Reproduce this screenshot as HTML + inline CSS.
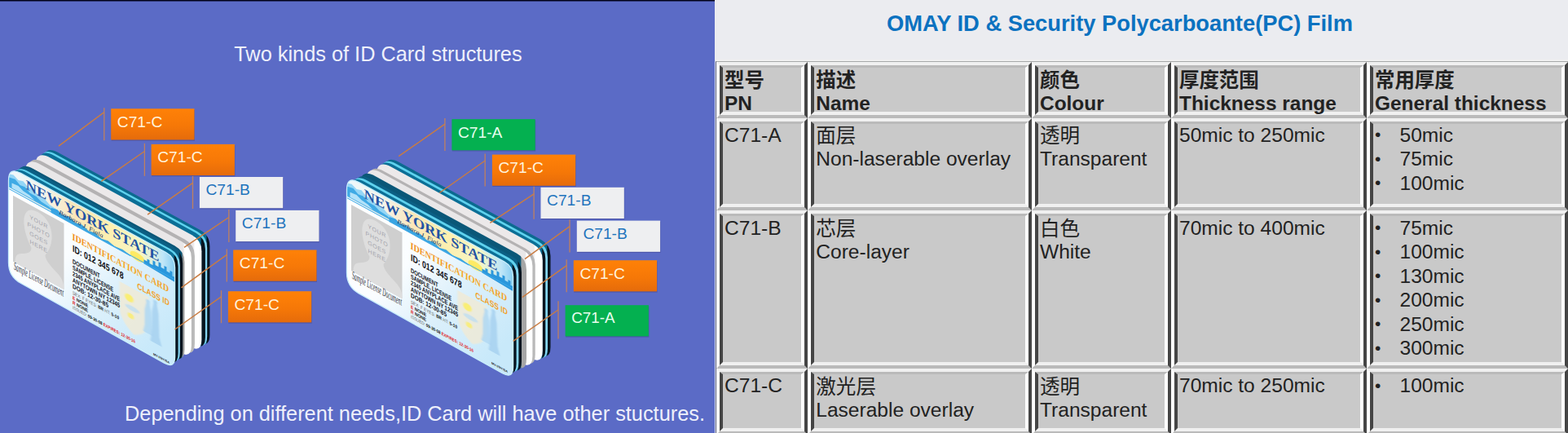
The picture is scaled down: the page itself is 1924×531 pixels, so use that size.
<!DOCTYPE html>
<html lang="zh">
<head>
<meta charset="utf-8">
<title>OMAY ID &amp; Security Polycarboante(PC) Film</title>
<style>
html,body{margin:0;padding:0;}
body{width:1924px;height:531px;overflow:hidden;position:relative;background:#ebecf0;
  font-family:"Liberation Sans","Noto Sans CJK SC",sans-serif;color:#222;}
#left{position:absolute;left:0;top:0;width:877px;height:531px;overflow:hidden;}
#left svg{display:block}
#title{position:absolute;left:877px;top:0;width:994px;text-align:center;font-weight:bold;
  font-size:27.3px;line-height:58px;color:#0b72c0;white-space:nowrap;}
#tbl{position:absolute;left:0;top:0;width:1924px;height:531px;overflow:hidden;}
#tb-bg{position:absolute;left:877px;top:73px;width:1060px;height:470px;background:#f0f0f0;
  border-left:1px solid #dfe3f3;border-top:1.6px solid #f0f0f0;box-sizing:border-box;}
#tb-in{position:absolute;left:878px;top:74.6px;width:1060px;height:470px;background:#f0f0f0;
  border-left:1.1px solid #55597a;border-top:1.4px solid #a6a8a8;box-sizing:border-box;}
.co{position:absolute;box-sizing:border-box;border-style:solid;border-width:4.1px;
  border-color:#f0f0f0 #454545 #bababa #ffffff;}
.ci{width:100%;height:100%;box-sizing:border-box;border-style:solid;border-width:4.1px;
  border-color:#bababa #ffffff #f0f0f0 #454545;border-top-width:3.2px;background:#c9c9c9;}
.t{position:absolute;font-size:24.56px;line-height:29.5px;white-space:nowrap;color:#222;}
.t.b{font-weight:bold;font-size:24.45px;}
.bu{font-size:21px;}
</style>
</head>
<body>
<div id="left">
<svg width="877" height="531" viewBox="0 0 877 531">
<defs>
<linearGradient id="og" x1="0" y1="0" x2="0" y2="1"><stop offset="0" stop-color="#ff8107"/><stop offset="0.55" stop-color="#f67807"/><stop offset="1" stop-color="#e56b0b"/></linearGradient>
<linearGradient id="bang" x1="0" y1="0" x2="1" y2="0"><stop offset="0" stop-color="#eef8fd"/><stop offset="0.22" stop-color="#f3f3ea"/><stop offset="0.4" stop-color="#fbe6b8"/><stop offset="0.6" stop-color="#fdf0b0"/><stop offset="0.8" stop-color="#f4f6c8"/><stop offset="0.92" stop-color="#bfe6f8"/><stop offset="1" stop-color="#7fcaf0"/></linearGradient>
<filter id="soft" x="-20%" y="-20%" width="140%" height="140%"><feGaussianBlur stdDeviation="0.7"/></filter>
<linearGradient id="idg" x1="0" y1="0" x2="1" y2="0"><stop offset="0" stop-color="#f08c1c"/><stop offset="0.6" stop-color="#f6a823"/><stop offset="1" stop-color="#f2a22a"/></linearGradient>
</defs>
<rect width="877" height="531" fill="#5b6bc6"/>
<rect width="877" height="1.5" fill="#02021a"/>
<text x="287.3" y="74.5" font-family="'Liberation Sans',sans-serif" font-size="25.34" fill="#eef0fb">Two kinds of ID Card structures</text>
<text x="153.0" y="516.0" font-family="'Liberation Sans',sans-serif" font-size="25.34" fill="#eef0fb">Depending on different needs,ID Card will have other stuctures.</text>
<defs><linearGradient id="lga_9" gradientUnits="userSpaceOnUse" x1="252.60" y1="0" x2="254.40" y2="0"><stop offset="0" stop-color="#0b6a90"/><stop offset="1" stop-color="#07141f"/></linearGradient><linearGradient id="lga_8" gradientUnits="userSpaceOnUse" x1="250.30" y1="0" x2="252.10" y2="0"><stop offset="0" stop-color="#5fd2ee"/><stop offset="1" stop-color="#86d6f2"/></linearGradient><linearGradient id="lga_7" gradientUnits="userSpaceOnUse" x1="245.80" y1="0" x2="247.60" y2="0"><stop offset="0" stop-color="#0c6f96"/><stop offset="1" stop-color="#07141f"/></linearGradient><linearGradient id="lga_6" gradientUnits="userSpaceOnUse" x1="237.30" y1="0" x2="239.10" y2="0"><stop offset="0" stop-color="#ece9ea"/><stop offset="1" stop-color="#ffffff"/></linearGradient><linearGradient id="lga_5" gradientUnits="userSpaceOnUse" x1="233.30" y1="0" x2="235.10" y2="0"><stop offset="0" stop-color="#b4b2b3"/><stop offset="1" stop-color="#b9b9b9"/></linearGradient><linearGradient id="lga_4" gradientUnits="userSpaceOnUse" x1="224.80" y1="0" x2="226.60" y2="0"><stop offset="0" stop-color="#e9e7e8"/><stop offset="1" stop-color="#ffffff"/></linearGradient><linearGradient id="lga_3" gradientUnits="userSpaceOnUse" x1="222.60" y1="0" x2="224.40" y2="0"><stop offset="0" stop-color="#0a5778"/><stop offset="1" stop-color="#9a9a9a"/></linearGradient><linearGradient id="lga_2" gradientUnits="userSpaceOnUse" x1="219.20" y1="0" x2="221.00" y2="0"><stop offset="0" stop-color="#0b5f84"/><stop offset="1" stop-color="#07141f"/></linearGradient><linearGradient id="lga_1" gradientUnits="userSpaceOnUse" x1="217.00" y1="0" x2="218.80" y2="0"><stop offset="0" stop-color="#5fd2ee"/><stop offset="1" stop-color="#86d6f2"/></linearGradient><linearGradient id="lga_0" gradientUnits="userSpaceOnUse" x1="213.00" y1="0" x2="214.80" y2="0"><stop offset="0" stop-color="#0c6f96"/><stop offset="1" stop-color="#07141f"/></linearGradient><linearGradient id="facega" gradientUnits="userSpaceOnUse" x1="10.5" y1="204.3" x2="214.6" y2="399.0"><stop offset="0" stop-color="#ffffff"/><stop offset="0.45" stop-color="#fafdff"/><stop offset="0.7" stop-color="#dcf0fb"/><stop offset="1" stop-color="#c8e9fa"/></linearGradient></defs>
<path d="M53.30 198.20Q53.30 177.20 71.74 187.25L245.55 281.97Q257.40 288.43 257.40 301.93L257.40 410.38Q257.40 427.38 242.54 419.12L71.65 324.10Q53.30 313.90 53.30 292.90Z" fill="url(#lga_9)"/>
<path d="M50.10 200.23Q50.10 179.23 68.54 189.28L242.35 284.00Q254.20 290.46 254.20 303.96L254.20 412.26Q254.20 429.26 239.34 421.00L68.45 325.98Q50.10 315.78 50.10 294.78Z" fill="url(#lga_8)"/>
<path d="M47.80 201.68Q47.80 180.68 66.24 190.73L240.05 285.46Q251.90 291.92 251.90 305.42L251.90 413.61Q251.90 430.61 237.04 422.34L66.15 327.33Q47.80 317.13 47.80 296.13Z" fill="url(#lga_7)"/>
<path d="M43.30 204.53Q43.30 183.53 61.74 193.58L235.55 288.31Q247.40 294.77 247.40 308.27L247.40 416.24Q247.40 433.24 232.54 424.98L61.65 329.97Q43.30 319.76 43.30 298.76Z" fill="url(#lga_6)"/>
<path d="M34.80 209.91Q34.80 188.91 53.24 198.96L227.05 293.69Q238.90 300.15 238.90 313.65L238.90 421.23Q238.90 438.23 224.04 429.97L53.15 334.95Q34.80 324.75 34.80 303.75Z" fill="url(#lga_5)"/>
<path d="M30.80 212.45Q30.80 191.45 49.24 201.50L223.05 296.22Q234.90 302.68 234.90 316.18L234.90 423.57Q234.90 440.57 220.04 432.31L49.15 337.30Q30.80 327.10 30.80 306.10Z" fill="url(#lga_4)"/>
<path d="M22.30 217.83Q22.30 196.83 40.74 206.88L214.55 301.60Q226.40 308.06 226.40 321.56L226.40 428.56Q226.40 445.56 211.54 437.30L40.65 342.28Q22.30 332.08 22.30 311.08Z" fill="url(#lga_3)"/>
<path d="M20.10 219.22Q20.10 198.22 38.54 208.27L212.35 303.00Q224.20 309.46 224.20 322.96L224.20 429.85Q224.20 446.85 209.34 438.59L38.45 343.57Q20.10 333.37 20.10 312.37Z" fill="url(#lga_2)"/>
<path d="M16.70 221.37Q16.70 200.37 35.14 210.42L208.95 305.15Q220.80 311.61 220.80 325.11L220.80 431.84Q220.80 448.84 205.94 440.58L35.05 345.57Q16.70 335.36 16.70 314.36Z" fill="url(#lga_1)"/>
<path d="M14.50 222.77Q14.50 201.77 32.94 211.82L206.75 306.54Q218.60 313.00 218.60 326.50L218.60 433.13Q218.60 450.13 203.74 441.87L32.85 346.86Q14.50 336.65 14.50 315.65Z" fill="url(#lga_0)"/>
<clipPath id="fca"><path d="M10.50 221.30Q10.50 204.30 25.43 212.44L203.62 309.55Q214.60 315.53 214.60 328.03L214.60 437.48Q214.60 452.48 201.49 445.19L25.36 347.26Q10.50 339.00 10.50 322.00Z"/></clipPath>
<path d="M10.50 221.30Q10.50 204.30 25.43 212.44L203.62 309.55Q214.60 315.53 214.60 328.03L214.60 437.48Q214.60 452.48 201.49 445.19L25.36 347.26Q10.50 339.00 10.50 322.00Z" fill="url(#facega)"/>
<g clip-path="url(#fca)">
<g transform="matrix(1,0.548,0,1,10.50,204.30)">
<rect x="0" y="-2" width="206" height="29" fill="url(#bang)"/>
<path d="M0 9 L6 7 L12 10 L18 8 L24 12 L30 11 L36 15 L44 15 L50 19 L58 20 L64 23 L0 23 Z" fill="#8fd4f5" opacity="0.95"/>
<path d="M0 13 L8 11 L14 15 L20 14 L26 18 L34 18 L40 21 L50 22 L56 25 L0 25 Z" fill="#35a5e3" opacity="0.9"/>
<path d="M4 18 L12 17 L18 20 L26 21 L32 24 L4 24 Z" fill="#bfe8fb" opacity="0.9"/>
<path d="M52 22 L60 20 L66 23 L74 21 L82 24 L90 22 L98 25 L106 23 L114 26 L122 24 L130 26.5 L140 25 L150 27 L150 28 L52 28 Z" fill="#2f9fe2" opacity="0.95"/>
<ellipse cx="158" cy="24" rx="9" ry="5" fill="#ffe95a" opacity="0.9"/>
<path d="M166 28 L166 23 L170 23 L170 20 L173 20 L173 24 L177 24 L177 18 L180 18 L180 22 L184 22 L184 16 L187 16 L187 21 L191 21 L191 17 L194 17 L194 22 L198 22 L198 19 L201 19 L201 24 L206 24 L206 30 Z" fill="#2a97dc"/>
<rect x="0" y="26.4" width="206" height="1.1" fill="#3fa9e6"/>
<text transform="translate(21.3,15.6) scale(1,1.0)" x="0" y="0" font-family="'Liberation Serif',serif" font-weight="bold" font-size="16.6" textLength="163.5" lengthAdjust="spacingAndGlyphs" fill="#2152a4">NEW YORK STATE</text>
<text x="62" y="24.0" font-family="'Liberation Serif',serif" font-style="italic" font-size="7.4" textLength="54" lengthAdjust="spacingAndGlyphs" fill="#12305e">Barbara J. Fiala</text>
<rect x="5.5" y="32.5" width="62.5" height="81" fill="#cfcfcf"/>
<path d="M36 36 C49 36 54 47 53 60 C52 72 47 80 45 84 C45 90 52 94 60 98 C66 101 68 106 68 113.5 L8 113.5 C8 106 10 101 16 98 C23 94 28 90 28 84 C25 80 20 72 19 60 C18 47 23 36 36 36 Z" fill="#dedede"/>
<text x="37" y="50.0" text-anchor="middle" font-family="'Liberation Sans',sans-serif" font-size="7" fill="#a4a4ac" letter-spacing="0.6">YOUR</text>
<text x="37" y="60.0" text-anchor="middle" font-family="'Liberation Sans',sans-serif" font-size="7" fill="#a4a4ac" letter-spacing="0.6">PHOTO</text>
<text x="37" y="70.0" text-anchor="middle" font-family="'Liberation Sans',sans-serif" font-size="7" fill="#a4a4ac" letter-spacing="0.6">GOES</text>
<text x="37" y="80.0" text-anchor="middle" font-family="'Liberation Sans',sans-serif" font-size="7" fill="#a4a4ac" letter-spacing="0.6">HERE</text>
<text x="6.5" y="122.5" font-family="'Liberation Serif',serif" font-style="italic" font-size="14" textLength="61" lengthAdjust="spacingAndGlyphs" fill="#2e2e38">Sample License Document</text>
<g filter="url(#soft)">
<path d="M136 66 L172 66 L172 96 C172 110 162 118 154 122 C146 118 136 110 136 96 Z" fill="#f3ead2" opacity="0.75"/>
<ellipse cx="148" cy="80" rx="5.5" ry="4.5" fill="#fbee6a" opacity="0.9"/>
<ellipse cx="150" cy="101" rx="4" ry="3.2" fill="#fbee6a" opacity="0.8"/>
<ellipse cx="152" cy="91" rx="9" ry="3" fill="#b9ddf3" opacity="0.7"/>
<path d="M169 74 l4 0 l2 9 l1 20 l2 8 l-13 0 l2 -9 l0 -19 z" fill="#b3d9f3" opacity="0.9"/>
<ellipse cx="171" cy="72" rx="2.4" ry="2.8" fill="#b3d9f3" opacity="0.9"/>
<path d="M178 70 l4 0 l2 10 l1 28 l3 10 l-14 0 l2 -12 l0 -26 z" fill="#a9d3f1" opacity="0.9"/>
<ellipse cx="180" cy="68" rx="2.4" ry="2.8" fill="#a9d3f1" opacity="0.9"/>
</g>
<text x="78" y="46.6" font-family="'Liberation Serif',serif" font-weight="bold" font-size="11.8" textLength="118.5" lengthAdjust="spacingAndGlyphs" fill="url(#idg)">IDENTIFICATION CARD</text>
<text x="157.8" y="63" font-family="'Liberation Sans',sans-serif" font-weight="bold" font-size="10.4" textLength="39.5" lengthAdjust="spacingAndGlyphs" fill="#f2a22a">CLASS ID</text>
<text x="78.5" y="61" font-family="'Liberation Sans',sans-serif" font-weight="bold" font-size="11.6" textLength="62.5" lengthAdjust="spacingAndGlyphs" fill="#0d0d12">ID: 012 345 678</text>
<text x="78.5" y="75.6" font-family="'Liberation Sans',sans-serif" font-weight="bold" font-size="8" textLength="33.5" lengthAdjust="spacingAndGlyphs" fill="#12121a">DOCUMENT</text>
<text x="78.5" y="83.2" font-family="'Liberation Sans',sans-serif" font-weight="bold" font-size="8" textLength="50" lengthAdjust="spacingAndGlyphs" fill="#12121a">SAMPLE, LICENSE</text>
<text x="78.5" y="90.8" font-family="'Liberation Sans',sans-serif" font-weight="bold" font-size="8" textLength="58" lengthAdjust="spacingAndGlyphs" fill="#12121a">2345 ANYPLACE AVE</text>
<text x="78.5" y="98.4" font-family="'Liberation Sans',sans-serif" font-weight="bold" font-size="8" textLength="58" lengthAdjust="spacingAndGlyphs" fill="#12121a">ANYTOWN NY 12345</text>
<text x="78.5" y="106.0" font-family="'Liberation Sans',sans-serif" font-weight="bold" font-size="8" textLength="44" lengthAdjust="spacingAndGlyphs" fill="#12121a">DOB:  12-30-85</text>
<text x="78.5" y="113.4" font-family="'Liberation Sans',sans-serif" font-size="5.6" textLength="57" lengthAdjust="spacingAndGlyphs" fill="#666">SEX: F   EYES: <tspan font-weight="bold" fill="#111">BR</tspan>   HT: <tspan font-weight="bold" fill="#111">5-10</tspan></text>
<text x="78.5" y="119.4" font-family="'Liberation Sans',sans-serif" font-weight="bold" font-size="5.8" textLength="19" lengthAdjust="spacingAndGlyphs" fill="#111"><tspan fill="#e02020">E</tspan> NONE</text>
<text x="78.5" y="125.4" font-family="'Liberation Sans',sans-serif" font-weight="bold" font-size="5.8" textLength="19" lengthAdjust="spacingAndGlyphs" fill="#111"><tspan fill="#e02020">R</tspan> NONE</text>
<text x="78.5" y="131.4" font-family="'Liberation Sans',sans-serif" font-size="5.4" textLength="77" lengthAdjust="spacingAndGlyphs" fill="#666">ISSUED: <tspan font-weight="bold" fill="#111">09-30-08</tspan>   <tspan font-weight="bold" fill="#e02020">EXPIRES: 12-30-16</tspan></text>
<text x="177.5" y="133.6" font-family="'Liberation Sans',sans-serif" font-weight="bold" font-size="3.8" textLength="20" lengthAdjust="spacingAndGlyphs" fill="#222">MV-I/NY/SA</text>
</g></g>
<path d="M10.50 221.30Q10.50 204.30 25.43 212.44L203.62 309.55Q214.60 315.53 214.60 328.03L214.60 437.48Q214.60 452.48 201.49 445.19L25.36 347.26Q10.50 339.00 10.50 322.00Z" fill="none" stroke="#c9eefc" stroke-width="1.3"/>
<defs><linearGradient id="lgb_9" gradientUnits="userSpaceOnUse" x1="670.40" y1="0" x2="672.20" y2="0"><stop offset="0" stop-color="#0b6a90"/><stop offset="1" stop-color="#07141f"/></linearGradient><linearGradient id="lgb_8" gradientUnits="userSpaceOnUse" x1="667.70" y1="0" x2="669.50" y2="0"><stop offset="0" stop-color="#5fd2ee"/><stop offset="1" stop-color="#86d6f2"/></linearGradient><linearGradient id="lgb_7" gradientUnits="userSpaceOnUse" x1="664.20" y1="0" x2="666.00" y2="0"><stop offset="0" stop-color="#0c6f96"/><stop offset="1" stop-color="#07141f"/></linearGradient><linearGradient id="lgb_6" gradientUnits="userSpaceOnUse" x1="655.10" y1="0" x2="656.90" y2="0"><stop offset="0" stop-color="#ece9ea"/><stop offset="1" stop-color="#ffffff"/></linearGradient><linearGradient id="lgb_5" gradientUnits="userSpaceOnUse" x1="651.80" y1="0" x2="653.60" y2="0"><stop offset="0" stop-color="#b4b2b3"/><stop offset="1" stop-color="#b9b9b9"/></linearGradient><linearGradient id="lgb_4" gradientUnits="userSpaceOnUse" x1="644.40" y1="0" x2="646.20" y2="0"><stop offset="0" stop-color="#e9e7e8"/><stop offset="1" stop-color="#ffffff"/></linearGradient><linearGradient id="lgb_3" gradientUnits="userSpaceOnUse" x1="638.40" y1="0" x2="640.20" y2="0"><stop offset="0" stop-color="#0a5778"/><stop offset="1" stop-color="#a6a6a6"/></linearGradient><linearGradient id="lgb_2" gradientUnits="userSpaceOnUse" x1="634.80" y1="0" x2="636.60" y2="0"><stop offset="0" stop-color="#0b5f84"/><stop offset="1" stop-color="#07141f"/></linearGradient><linearGradient id="lgb_1" gradientUnits="userSpaceOnUse" x1="632.00" y1="0" x2="633.80" y2="0"><stop offset="0" stop-color="#5fd2ee"/><stop offset="1" stop-color="#86d6f2"/></linearGradient><linearGradient id="lgb_0" gradientUnits="userSpaceOnUse" x1="628.00" y1="0" x2="629.80" y2="0"><stop offset="0" stop-color="#0c6f96"/><stop offset="1" stop-color="#07141f"/></linearGradient><linearGradient id="facegb" gradientUnits="userSpaceOnUse" x1="425.5" y1="215.5" x2="629.6" y2="411.6"><stop offset="0" stop-color="#ffffff"/><stop offset="0.45" stop-color="#fafdff"/><stop offset="0.7" stop-color="#dcf0fb"/><stop offset="1" stop-color="#c8e9fa"/></linearGradient></defs>
<path d="M471.40 210.00Q471.40 189.00 489.84 199.05L663.65 293.77Q675.50 300.23 675.50 313.73L675.50 425.58Q675.50 442.58 660.64 434.32L489.75 339.30Q471.40 329.10 471.40 308.10Z" fill="url(#lgb_9)"/>
<path d="M467.90 212.02Q467.90 191.02 486.34 201.07L660.15 295.79Q672.00 302.26 672.00 315.76L672.00 427.30Q672.00 444.30 657.14 436.03L486.25 341.02Q467.90 330.82 467.90 309.82Z" fill="url(#lgb_8)"/>
<path d="M465.20 213.58Q465.20 192.58 483.64 202.63L657.45 297.35Q669.30 303.81 669.30 317.31L669.30 428.62Q669.30 445.62 654.44 437.36L483.55 342.34Q465.20 332.14 465.20 311.14Z" fill="url(#lgb_7)"/>
<path d="M461.70 215.60Q461.70 194.60 480.14 204.65L653.95 299.37Q665.80 305.83 665.80 319.33L665.80 430.33Q665.80 447.33 650.94 439.07L480.05 344.06Q461.70 333.85 461.70 312.85Z" fill="url(#lgb_6)"/>
<path d="M452.60 220.85Q452.60 199.85 471.04 209.90L644.85 304.63Q656.70 311.09 656.70 324.59L656.70 434.80Q656.70 451.80 641.84 443.53L470.95 348.52Q452.60 338.32 452.60 317.32Z" fill="url(#lgb_5)"/>
<path d="M449.30 222.76Q449.30 201.76 467.74 211.81L641.55 306.53Q653.40 312.99 653.40 326.49L653.40 436.41Q653.40 453.41 638.54 445.15L467.65 350.14Q449.30 339.93 449.30 318.93Z" fill="url(#lgb_4)"/>
<path d="M441.90 227.03Q441.90 206.03 460.34 216.08L634.15 310.81Q646.00 317.27 646.00 330.77L646.00 440.04Q646.00 457.04 631.14 448.78L460.25 353.77Q441.90 343.56 441.90 322.56Z" fill="url(#lgb_3)"/>
<path d="M435.90 230.50Q435.90 209.50 454.34 219.55L628.15 314.27Q640.00 320.73 640.00 334.23L640.00 442.98Q640.00 459.98 625.14 451.72L454.25 356.71Q435.90 346.50 435.90 325.50Z" fill="url(#lgb_2)"/>
<path d="M432.30 232.57Q432.30 211.57 450.74 221.62L624.55 316.35Q636.40 322.81 636.40 336.31L636.40 444.75Q636.40 461.75 621.54 453.49L450.65 358.47Q432.30 348.27 432.30 327.27Z" fill="url(#lgb_1)"/>
<path d="M429.50 234.19Q429.50 213.19 447.94 223.24L621.75 317.96Q633.60 324.43 633.60 337.93L633.60 446.12Q633.60 463.12 618.74 454.86L447.85 359.84Q429.50 349.64 429.50 328.64Z" fill="url(#lgb_0)"/>
<clipPath id="fcb"><path d="M425.50 232.50Q425.50 215.50 440.43 223.64L618.62 320.75Q629.60 326.73 629.60 339.23L629.60 450.08Q629.60 465.08 616.49 457.79L440.36 359.86Q425.50 351.60 425.50 334.60Z"/></clipPath>
<path d="M425.50 232.50Q425.50 215.50 440.43 223.64L618.62 320.75Q629.60 326.73 629.60 339.23L629.60 450.08Q629.60 465.08 616.49 457.79L440.36 359.86Q425.50 351.60 425.50 334.60Z" fill="url(#facegb)"/>
<g clip-path="url(#fcb)">
<g transform="matrix(1,0.548,0,1,425.50,215.50)">
<rect x="0" y="-2" width="206" height="29" fill="url(#bang)"/>
<path d="M0 9 L6 7 L12 10 L18 8 L24 12 L30 11 L36 15 L44 15 L50 19 L58 20 L64 23 L0 23 Z" fill="#8fd4f5" opacity="0.95"/>
<path d="M0 13 L8 11 L14 15 L20 14 L26 18 L34 18 L40 21 L50 22 L56 25 L0 25 Z" fill="#35a5e3" opacity="0.9"/>
<path d="M4 18 L12 17 L18 20 L26 21 L32 24 L4 24 Z" fill="#bfe8fb" opacity="0.9"/>
<path d="M52 22 L60 20 L66 23 L74 21 L82 24 L90 22 L98 25 L106 23 L114 26 L122 24 L130 26.5 L140 25 L150 27 L150 28 L52 28 Z" fill="#2f9fe2" opacity="0.95"/>
<ellipse cx="158" cy="24" rx="9" ry="5" fill="#ffe95a" opacity="0.9"/>
<path d="M166 28 L166 23 L170 23 L170 20 L173 20 L173 24 L177 24 L177 18 L180 18 L180 22 L184 22 L184 16 L187 16 L187 21 L191 21 L191 17 L194 17 L194 22 L198 22 L198 19 L201 19 L201 24 L206 24 L206 30 Z" fill="#2a97dc"/>
<rect x="0" y="26.4" width="206" height="1.1" fill="#3fa9e6"/>
<text transform="translate(21.3,15.6) scale(1,1.0)" x="0" y="0" font-family="'Liberation Serif',serif" font-weight="bold" font-size="16.6" textLength="163.5" lengthAdjust="spacingAndGlyphs" fill="#2152a4">NEW YORK STATE</text>
<text x="62" y="24.0" font-family="'Liberation Serif',serif" font-style="italic" font-size="7.4" textLength="54" lengthAdjust="spacingAndGlyphs" fill="#12305e">Barbara J. Fiala</text>
<rect x="5.5" y="32.5" width="62.5" height="81" fill="#cfcfcf"/>
<path d="M36 36 C49 36 54 47 53 60 C52 72 47 80 45 84 C45 90 52 94 60 98 C66 101 68 106 68 113.5 L8 113.5 C8 106 10 101 16 98 C23 94 28 90 28 84 C25 80 20 72 19 60 C18 47 23 36 36 36 Z" fill="#dedede"/>
<text x="37" y="50.0" text-anchor="middle" font-family="'Liberation Sans',sans-serif" font-size="7" fill="#a4a4ac" letter-spacing="0.6">YOUR</text>
<text x="37" y="60.0" text-anchor="middle" font-family="'Liberation Sans',sans-serif" font-size="7" fill="#a4a4ac" letter-spacing="0.6">PHOTO</text>
<text x="37" y="70.0" text-anchor="middle" font-family="'Liberation Sans',sans-serif" font-size="7" fill="#a4a4ac" letter-spacing="0.6">GOES</text>
<text x="37" y="80.0" text-anchor="middle" font-family="'Liberation Sans',sans-serif" font-size="7" fill="#a4a4ac" letter-spacing="0.6">HERE</text>
<text x="6.5" y="122.5" font-family="'Liberation Serif',serif" font-style="italic" font-size="14" textLength="61" lengthAdjust="spacingAndGlyphs" fill="#2e2e38">Sample License Document</text>
<g filter="url(#soft)">
<path d="M136 66 L172 66 L172 96 C172 110 162 118 154 122 C146 118 136 110 136 96 Z" fill="#f3ead2" opacity="0.75"/>
<ellipse cx="148" cy="80" rx="5.5" ry="4.5" fill="#fbee6a" opacity="0.9"/>
<ellipse cx="150" cy="101" rx="4" ry="3.2" fill="#fbee6a" opacity="0.8"/>
<ellipse cx="152" cy="91" rx="9" ry="3" fill="#b9ddf3" opacity="0.7"/>
<path d="M169 74 l4 0 l2 9 l1 20 l2 8 l-13 0 l2 -9 l0 -19 z" fill="#b3d9f3" opacity="0.9"/>
<ellipse cx="171" cy="72" rx="2.4" ry="2.8" fill="#b3d9f3" opacity="0.9"/>
<path d="M178 70 l4 0 l2 10 l1 28 l3 10 l-14 0 l2 -12 l0 -26 z" fill="#a9d3f1" opacity="0.9"/>
<ellipse cx="180" cy="68" rx="2.4" ry="2.8" fill="#a9d3f1" opacity="0.9"/>
</g>
<text x="78" y="46.6" font-family="'Liberation Serif',serif" font-weight="bold" font-size="11.8" textLength="118.5" lengthAdjust="spacingAndGlyphs" fill="url(#idg)">IDENTIFICATION CARD</text>
<text x="157.8" y="63" font-family="'Liberation Sans',sans-serif" font-weight="bold" font-size="10.4" textLength="39.5" lengthAdjust="spacingAndGlyphs" fill="#f2a22a">CLASS ID</text>
<text x="78.5" y="61" font-family="'Liberation Sans',sans-serif" font-weight="bold" font-size="11.6" textLength="62.5" lengthAdjust="spacingAndGlyphs" fill="#0d0d12">ID: 012 345 678</text>
<text x="78.5" y="75.6" font-family="'Liberation Sans',sans-serif" font-weight="bold" font-size="8" textLength="33.5" lengthAdjust="spacingAndGlyphs" fill="#12121a">DOCUMENT</text>
<text x="78.5" y="83.2" font-family="'Liberation Sans',sans-serif" font-weight="bold" font-size="8" textLength="50" lengthAdjust="spacingAndGlyphs" fill="#12121a">SAMPLE, LICENSE</text>
<text x="78.5" y="90.8" font-family="'Liberation Sans',sans-serif" font-weight="bold" font-size="8" textLength="58" lengthAdjust="spacingAndGlyphs" fill="#12121a">2345 ANYPLACE AVE</text>
<text x="78.5" y="98.4" font-family="'Liberation Sans',sans-serif" font-weight="bold" font-size="8" textLength="58" lengthAdjust="spacingAndGlyphs" fill="#12121a">ANYTOWN NY 12345</text>
<text x="78.5" y="106.0" font-family="'Liberation Sans',sans-serif" font-weight="bold" font-size="8" textLength="44" lengthAdjust="spacingAndGlyphs" fill="#12121a">DOB:  12-30-85</text>
<text x="78.5" y="113.4" font-family="'Liberation Sans',sans-serif" font-size="5.6" textLength="57" lengthAdjust="spacingAndGlyphs" fill="#666">SEX: F   EYES: <tspan font-weight="bold" fill="#111">BR</tspan>   HT: <tspan font-weight="bold" fill="#111">5-10</tspan></text>
<text x="78.5" y="119.4" font-family="'Liberation Sans',sans-serif" font-weight="bold" font-size="5.8" textLength="19" lengthAdjust="spacingAndGlyphs" fill="#111"><tspan fill="#e02020">E</tspan> NONE</text>
<text x="78.5" y="125.4" font-family="'Liberation Sans',sans-serif" font-weight="bold" font-size="5.8" textLength="19" lengthAdjust="spacingAndGlyphs" fill="#111"><tspan fill="#e02020">R</tspan> NONE</text>
<text x="78.5" y="131.4" font-family="'Liberation Sans',sans-serif" font-size="5.4" textLength="77" lengthAdjust="spacingAndGlyphs" fill="#666">ISSUED: <tspan font-weight="bold" fill="#111">09-30-08</tspan>   <tspan font-weight="bold" fill="#e02020">EXPIRES: 12-30-16</tspan></text>
<text x="177.5" y="133.6" font-family="'Liberation Sans',sans-serif" font-weight="bold" font-size="3.8" textLength="20" lengthAdjust="spacingAndGlyphs" fill="#222">MV-I/NY/SA</text>
</g></g>
<path d="M425.50 232.50Q425.50 215.50 440.43 223.64L618.62 320.75Q629.60 326.73 629.60 339.23L629.60 450.08Q629.60 465.08 616.49 457.79L440.36 359.86Q425.50 351.60 425.50 334.60Z" fill="none" stroke="#c9eefc" stroke-width="1.3"/>
<line x1="72.0" y1="179.2" x2="127.8" y2="137.6" stroke="#c97c42" stroke-width="1.45"/>
<line x1="127.8" y1="132.3" x2="127.8" y2="172.3" stroke="#bf8060" stroke-width="1.3"/>
<rect x="136.7" y="134.5" width="102.3" height="38.2" fill="#3a3f8a" opacity="0.45"/>
<rect x="136.2" y="133.3" width="102.3" height="38.2" fill="url(#og)"/>
<text x="143.8" y="155.7" font-family="'Liberation Sans',sans-serif" font-size="19.2" fill="#fff3dd">C71-C</text>
<line x1="124.3" y1="222.3" x2="177.4" y2="185.5" stroke="#c97c42" stroke-width="1.45"/>
<line x1="177.4" y1="175.9" x2="177.4" y2="215.9" stroke="#bf8060" stroke-width="1.3"/>
<rect x="186.1" y="178.1" width="102.3" height="38.2" fill="#3a3f8a" opacity="0.45"/>
<rect x="185.6" y="176.9" width="102.3" height="38.2" fill="url(#og)"/>
<text x="193.2" y="199.3" font-family="'Liberation Sans',sans-serif" font-size="19.2" fill="#fff3dd">C71-C</text>
<line x1="181.1" y1="263.1" x2="236.5" y2="224.3" stroke="#c97c42" stroke-width="1.45"/>
<line x1="236.5" y1="216.0" x2="236.5" y2="256.0" stroke="#bf8060" stroke-width="1.3"/>
<rect x="245.4" y="218.2" width="102.3" height="38.2" fill="#3a3f8a" opacity="0.45"/>
<rect x="244.9" y="217.0" width="102.3" height="38.2" fill="#eeeff1"/>
<text x="252.5" y="239.4" font-family="'Liberation Sans',sans-serif" font-size="19.2" fill="#1f74bd">C71-B</text>
<line x1="226.0" y1="303.4" x2="280.8" y2="266.5" stroke="#c97c42" stroke-width="1.45"/>
<line x1="280.8" y1="256.9" x2="280.8" y2="296.9" stroke="#bf8060" stroke-width="1.3"/>
<rect x="289.7" y="259.1" width="102.3" height="38.2" fill="#3a3f8a" opacity="0.45"/>
<rect x="289.2" y="257.9" width="102.3" height="38.2" fill="#eeeff1"/>
<text x="296.8" y="280.3" font-family="'Liberation Sans',sans-serif" font-size="19.2" fill="#1f74bd">C71-B</text>
<line x1="222.4" y1="352.8" x2="278.3" y2="312.4" stroke="#c97c42" stroke-width="1.45"/>
<line x1="278.3" y1="305.5" x2="278.3" y2="345.5" stroke="#bf8060" stroke-width="1.3"/>
<rect x="286.7" y="307.7" width="102.3" height="38.2" fill="#3a3f8a" opacity="0.45"/>
<rect x="286.2" y="306.5" width="102.3" height="38.2" fill="url(#og)"/>
<text x="293.8" y="328.9" font-family="'Liberation Sans',sans-serif" font-size="19.2" fill="#fff3dd">C71-C</text>
<line x1="214.5" y1="404.0" x2="271.5" y2="363.8" stroke="#c97c42" stroke-width="1.45"/>
<line x1="271.5" y1="356.2" x2="271.5" y2="396.2" stroke="#bf8060" stroke-width="1.3"/>
<rect x="280.4" y="358.4" width="102.3" height="38.2" fill="#3a3f8a" opacity="0.45"/>
<rect x="279.9" y="357.2" width="102.3" height="38.2" fill="url(#og)"/>
<text x="287.5" y="379.6" font-family="'Liberation Sans',sans-serif" font-size="19.2" fill="#fff3dd">C71-C</text>
<line x1="489.2" y1="191.7" x2="545.9" y2="152.1" stroke="#c97c42" stroke-width="1.45"/>
<line x1="545.9" y1="145.1" x2="545.9" y2="185.1" stroke="#bf8060" stroke-width="1.3"/>
<rect x="554.9" y="147.3" width="102.3" height="38.2" fill="#3a3f8a" opacity="0.45"/>
<rect x="554.4" y="146.1" width="102.3" height="38.2" fill="#04b050"/>
<text x="562.0" y="168.5" font-family="'Liberation Sans',sans-serif" font-size="19.2" fill="#eafff0">C71-A</text>
<line x1="539.3" y1="236.5" x2="595.2" y2="197.0" stroke="#c97c42" stroke-width="1.45"/>
<line x1="595.2" y1="188.6" x2="595.2" y2="228.6" stroke="#bf8060" stroke-width="1.3"/>
<rect x="604.4" y="190.8" width="102.3" height="38.2" fill="#3a3f8a" opacity="0.45"/>
<rect x="603.9" y="189.6" width="102.3" height="38.2" fill="url(#og)"/>
<text x="611.5" y="212.0" font-family="'Liberation Sans',sans-serif" font-size="19.2" fill="#fff3dd">C71-C</text>
<line x1="601.3" y1="273.4" x2="655.1" y2="237.8" stroke="#c97c42" stroke-width="1.45"/>
<line x1="655.1" y1="228.8" x2="655.1" y2="268.8" stroke="#bf8060" stroke-width="1.3"/>
<rect x="664.0" y="231.0" width="102.3" height="38.2" fill="#3a3f8a" opacity="0.45"/>
<rect x="663.5" y="229.8" width="102.3" height="38.2" fill="#eeeff1"/>
<text x="671.1" y="252.2" font-family="'Liberation Sans',sans-serif" font-size="19.2" fill="#1f74bd">C71-B</text>
<line x1="644.0" y1="317.6" x2="699.0" y2="277.6" stroke="#c97c42" stroke-width="1.45"/>
<line x1="699.0" y1="269.6" x2="699.0" y2="309.6" stroke="#bf8060" stroke-width="1.3"/>
<rect x="708.3" y="271.8" width="102.3" height="38.2" fill="#3a3f8a" opacity="0.45"/>
<rect x="707.8" y="270.6" width="102.3" height="38.2" fill="#eeeff1"/>
<text x="715.4" y="293.0" font-family="'Liberation Sans',sans-serif" font-size="19.2" fill="#1f74bd">C71-B</text>
<line x1="640.8" y1="364.6" x2="695.2" y2="325.6" stroke="#c97c42" stroke-width="1.45"/>
<line x1="695.2" y1="318.2" x2="695.2" y2="358.2" stroke="#bf8060" stroke-width="1.3"/>
<rect x="704.3" y="320.4" width="102.3" height="38.2" fill="#3a3f8a" opacity="0.45"/>
<rect x="703.8" y="319.2" width="102.3" height="38.2" fill="url(#og)"/>
<text x="711.4" y="341.6" font-family="'Liberation Sans',sans-serif" font-size="19.2" fill="#fff3dd">C71-C</text>
<line x1="629.6" y1="418.4" x2="685.0" y2="380.0" stroke="#c97c42" stroke-width="1.45"/>
<line x1="685.0" y1="369.2" x2="685.0" y2="415.4" stroke="#bf8060" stroke-width="1.3"/>
<rect x="694.1" y="375.4" width="102.3" height="38.2" fill="#3a3f8a" opacity="0.45"/>
<rect x="693.6" y="374.2" width="102.3" height="38.2" fill="#04b050"/>
<text x="701.2" y="396.0" font-family="'Liberation Sans',sans-serif" font-size="18.8" fill="#eafff0">C71-A</text>
</svg>
</div>
<div id="title">OMAY ID &amp; Security Polycarboante(PC) Film</div>
<div id="tbl">
<div id="tb-bg"></div><div id="tb-in"></div>
<div class="co" style="left:879.00px;top:76.00px;width:112.40px;height:69.00px"><div class="ci"></div></div><div class="co" style="left:991.40px;top:76.00px;width:274.60px;height:69.00px"><div class="ci"></div></div><div class="co" style="left:1266.00px;top:76.00px;width:171.00px;height:69.00px"><div class="ci"></div></div><div class="co" style="left:1437.00px;top:76.00px;width:240.00px;height:69.00px"><div class="ci"></div></div><div class="co" style="left:1677.00px;top:76.00px;width:247.30px;height:69.00px"><div class="ci"></div></div><div class="co" style="left:879.00px;top:145.00px;width:112.40px;height:113.10px"><div class="ci"></div></div><div class="co" style="left:991.40px;top:145.00px;width:274.60px;height:113.10px"><div class="ci"></div></div><div class="co" style="left:1266.00px;top:145.00px;width:171.00px;height:113.10px"><div class="ci"></div></div><div class="co" style="left:1437.00px;top:145.00px;width:240.00px;height:113.10px"><div class="ci"></div></div><div class="co" style="left:1677.00px;top:145.00px;width:247.30px;height:113.10px"><div class="ci"></div></div><div class="co" style="left:879.00px;top:258.10px;width:112.40px;height:193.60px"><div class="ci"></div></div><div class="co" style="left:991.40px;top:258.10px;width:274.60px;height:193.60px"><div class="ci"></div></div><div class="co" style="left:1266.00px;top:258.10px;width:171.00px;height:193.60px"><div class="ci"></div></div><div class="co" style="left:1437.00px;top:258.10px;width:240.00px;height:193.60px"><div class="ci"></div></div><div class="co" style="left:1677.00px;top:258.10px;width:247.30px;height:193.60px"><div class="ci"></div></div><div class="co" style="left:879.00px;top:451.70px;width:112.40px;height:81.30px"><div class="ci"></div></div><div class="co" style="left:991.40px;top:451.70px;width:274.60px;height:81.30px"><div class="ci"></div></div><div class="co" style="left:1266.00px;top:451.70px;width:171.00px;height:81.30px"><div class="ci"></div></div><div class="co" style="left:1437.00px;top:451.70px;width:240.00px;height:81.30px"><div class="ci"></div></div><div class="co" style="left:1677.00px;top:451.70px;width:247.30px;height:81.30px"><div class="ci"></div></div>
<div class="t b" style="left:889.00px;top:83.54px">型号</div><div class="t b" style="left:889.00px;top:112.14px">PN</div><div class="t b" style="left:1001.30px;top:83.54px">描述</div><div class="t b" style="left:1001.30px;top:112.14px">Name</div><div class="t b" style="left:1276.00px;top:83.54px">颜色</div><div class="t b" style="left:1276.00px;top:112.14px">Colour</div><div class="t b" style="left:1447.00px;top:83.54px">厚度范围</div><div class="t b" style="left:1447.00px;top:112.14px">Thickness range</div><div class="t b" style="left:1687.00px;top:83.54px">常用厚度</div><div class="t b" style="left:1687.00px;top:112.14px">General thickness</div><div class="t " style="left:889.00px;top:150.74px">C71-A</div><div class="t " style="left:1001.30px;top:152.14px">面层</div><div class="t " style="left:1001.30px;top:180.24px">Non-laserable overlay</div><div class="t " style="left:1276.00px;top:152.14px">透明</div><div class="t " style="left:1276.00px;top:180.24px">Transparent</div><div class="t " style="left:1447.00px;top:150.74px">50mic to 250mic</div><div class="t " style="left:1687.00px;top:149.44px"><span class="bu">•</span></div><div class="t " style="left:1717.50px;top:150.74px">50mic</div><div class="t " style="left:1687.00px;top:178.94px"><span class="bu">•</span></div><div class="t " style="left:1717.50px;top:180.24px">75mic</div><div class="t " style="left:1687.00px;top:208.44px"><span class="bu">•</span></div><div class="t " style="left:1717.50px;top:209.74px">100mic</div><div class="t " style="left:889.00px;top:264.64px">C71-B</div><div class="t " style="left:1001.30px;top:266.04px">芯层</div><div class="t " style="left:1001.30px;top:294.14px">Core-layer</div><div class="t " style="left:1276.00px;top:266.04px">白色</div><div class="t " style="left:1276.00px;top:294.14px">White</div><div class="t " style="left:1447.00px;top:264.64px">70mic to 400mic</div><div class="t " style="left:1687.00px;top:263.34px"><span class="bu">•</span></div><div class="t " style="left:1717.50px;top:264.64px">75mic</div><div class="t " style="left:1687.00px;top:292.84px"><span class="bu">•</span></div><div class="t " style="left:1717.50px;top:294.14px">100mic</div><div class="t " style="left:1687.00px;top:322.34px"><span class="bu">•</span></div><div class="t " style="left:1717.50px;top:323.64px">130mic</div><div class="t " style="left:1687.00px;top:351.84px"><span class="bu">•</span></div><div class="t " style="left:1717.50px;top:353.14px">200mic</div><div class="t " style="left:1687.00px;top:381.34px"><span class="bu">•</span></div><div class="t " style="left:1717.50px;top:382.64px">250mic</div><div class="t " style="left:1687.00px;top:410.84px"><span class="bu">•</span></div><div class="t " style="left:1717.50px;top:412.14px">300mic</div><div class="t " style="left:889.00px;top:458.14px">C71-C</div><div class="t " style="left:1001.30px;top:459.54px">激光层</div><div class="t " style="left:1001.30px;top:487.64px">Laserable overlay</div><div class="t " style="left:1276.00px;top:459.54px">透明</div><div class="t " style="left:1276.00px;top:487.64px">Transparent</div><div class="t " style="left:1447.00px;top:458.14px">70mic to 250mic</div><div class="t " style="left:1687.00px;top:456.84px"><span class="bu">•</span></div><div class="t " style="left:1717.50px;top:458.14px">100mic</div>
</div>
</body>
</html>
